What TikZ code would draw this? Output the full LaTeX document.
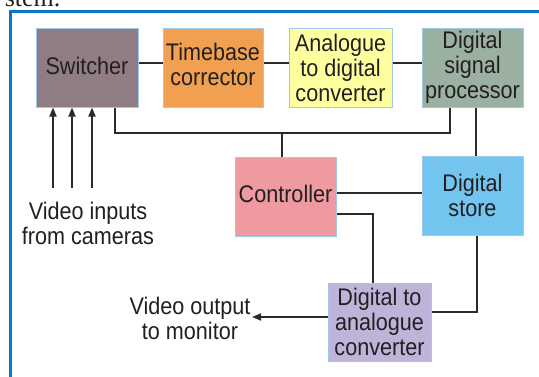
\documentclass[tikz,border=0pt]{standalone}
\usepackage{fontspec}
\setmainfont[FakeStretch=0.9]{Liberation Sans}
\newfontfamily\serifcut{Liberation Serif}
\usetikzlibrary{arrows.meta}
\definecolor{frameblue}{RGB}{10,120,200}
\definecolor{edgeblue}{RGB}{160,200,232}
\definecolor{txt}{RGB}{35,31,32}
\definecolor{linec}{RGB}{45,42,42}
\definecolor{cswitch}{RGB}{143,124,133}
\definecolor{ctime}{RGB}{240,160,80}
\definecolor{cadc}{RGB}{255,255,160}
\definecolor{cdsp}{RGB}{154,176,160}
\definecolor{cctl}{RGB}{238,154,160}
\definecolor{cstore}{RGB}{115,196,238}
\definecolor{cdac}{RGB}{190,180,218}
\begin{document}
\begin{tikzpicture}[x=1pt,y=-1pt,
  blk/.style={draw=edgeblue, line width=1pt, align=center, text=txt, inner sep=0pt,
    font=\fontsize{24}{25}\selectfont},
  lbl/.style={align=center, text=txt, inner sep=0pt, font=\fontsize{24}{25}\selectfont},
  conn/.style={draw=linec, line width=1.8pt},
  arr/.style={conn, -{Triangle[length=9pt,width=7pt]}}]
\useasboundingbox[fill=white] (0,0) rectangle (539,376);
\node[anchor=base east, font=\serifcut\fontsize{26}{26}\selectfont, text=txt] (cut) at (64,6) {stem.};
\draw[frameblue, line width=3pt] (10,380) -- (10,11.5) -- (545,11.5);
% blocks
\node[blk, fill=cswitch, minimum width=102pt, minimum height=79pt] (sw) at (87,67.5) {\raisebox{4pt}{Switcher}};
\node[blk, fill=ctime, minimum width=100pt, minimum height=79pt] (tb) at (213,67.5) {\raisebox{4pt}{\begin{tabular}{@{}c@{}}Timebase\\corrector\end{tabular}}};
\node[blk, fill=cadc, minimum width=103pt, minimum height=79pt] (adc) at (340.5,67.5) {Analogue\\to digital\\converter};
\node[blk, fill=cdsp, minimum width=101pt, minimum height=79pt] (dsp) at (472.5,67.5) {Digital\\signal\\processor};
\node[blk, fill=cctl, minimum width=101pt, minimum height=79pt] (ctl) at (285.5,196.5) {\raisebox{6pt}{Controller}};
\node[blk, fill=cstore, minimum width=101pt, minimum height=79pt] (st) at (472.5,195.5) {Digital\\store};
\node[blk, fill=cdac, minimum width=103pt, minimum height=78pt] (dac) at (379.5,322) {Digital to\\analogue\\converter};
% labels
\node[lbl] (vin) at (88,223) {Video inputs\\from cameras};
\node[lbl] (vout) at (190,318) {Video output\\to monitor};
% coordinates
\coordinate (y1) at (0,63);
\coordinate (b1) at (115,133);
\coordinate (b2) at (450,133);
\coordinate (bj) at (282,133);
\coordinate (ds) at (476,0);
\coordinate (c1) at (0,193);
\coordinate (c2) at (373,214);
\coordinate (c3) at (477,312);
\coordinate (c4) at (0,317);
\coordinate (otip) at (252,317);
\coordinate (i1) at (53,188);
\coordinate (i2) at (72,188);
\coordinate (i3) at (92,188);
% connectors
\draw[conn] (y1 -| sw.east) -- (y1 -| tb.west);
\draw[conn] (y1 -| tb.east) -- (y1 -| adc.west);
\draw[conn] (y1 -| adc.east) -- (y1 -| dsp.west);
\draw[conn] (b1 |- sw.south) -- (b1) -- (b2) -- (b2 |- dsp.south);
\draw[conn] (bj) -- (bj |- ctl.north);
\draw[conn] (ds |- dsp.south) -- (ds |- st.north);
\draw[conn] (c1 -| ctl.east) -- (c1 -| st.west);
\draw[conn] (c2 -| ctl.east) -- (c2) -- (c2 |- dac.north);
\draw[conn] (c3 |- st.south) -- (c3) -- (c3 -| dac.east);
\draw[arr] (c4 -| dac.west) -- (otip);
\draw[arr] (i1) -- (i1 |- sw.south);
\draw[arr] (i2) -- (i2 |- sw.south);
\draw[arr] (i3) -- (i3 |- sw.south);
\end{tikzpicture}
\end{document}
